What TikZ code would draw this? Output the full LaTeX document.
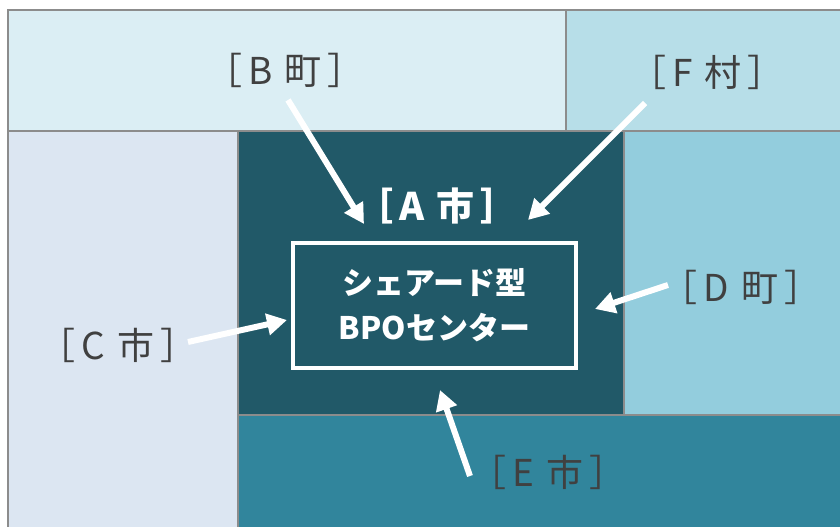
\documentclass[tikz,border=0pt]{standalone}
\usepackage{fontspec}
\setmainfont{Noto Sans CJK JP}
\usetikzlibrary{math,arrows.meta}

\definecolor{bcol}{HTML}{DBEEF4}
\definecolor{fcol}{HTML}{B7DEE8}
\definecolor{ccol}{HTML}{DCE6F2}
\definecolor{acol}{HTML}{215968}
\definecolor{dcol}{HTML}{93CDDD}
\definecolor{ecol}{HTML}{31859C}
\definecolor{txtgray}{HTML}{404040}

\newcommand{\placename}[2]{［\kern6pt#1\kern4pt\ #2\kern6pt］}

\tikzset{
  area/.style={draw=gray!90, line width=1.5pt},
  lbl/.style={text=txtgray, font=\fontsize{37}{40}\selectfont, inner sep=0pt},
  arr/.style={draw=white, line width=6pt, -{Triangle[width=21pt,length=20pt]}},
}

\begin{document}
\begin{tikzpicture}[x=1pt, y=-1pt]
  \tikzmath{%
    \xl = 8; \xa = 238; \xm = 566; \xd = 624; \xr = 842;
    \yt = 10; \ya = 131; \ye = 415; \yb = 529;
  }
  \useasboundingbox (0,0) rectangle (840,527);

  % regions
  \draw[area, fill=bcol] (\xl,\yt) rectangle (\xm,\ya);
  \draw[area, fill=fcol] (\xm,\yt) rectangle (\xr,\ya);
  \draw[area, fill=ccol] (\xl,\ya) rectangle (\xa,\yb);
  \draw[area, fill=acol] (\xa,\ya) rectangle (\xd,\ye);
  \draw[area, fill=dcol] (\xd,\ya) rectangle (\xr,\ye);
  \draw[area, fill=ecol] (\xa,\ye) rectangle (\xr,\yb);

  % labels
  \node[lbl] (B) at (285,70) {\placename{B}{町}};
  \node[lbl] (F) at (707,72) {\placename{F}{村}};
  \node[lbl] (C) at (118,345) {\placename{C}{市}};
  \node[lbl] (D) at (741,287) {\placename{D}{町}};
  \node[lbl] (E) at (548,472) {\placename{E}{市}};
  \node[lbl, text=white, font=\fontsize{38}{40}\selectfont\bfseries] (A) at (437,206) {\placename{A}{市}};

  \node[draw=white, line width=4pt, minimum width=283pt, minimum height=125pt,
        align=center, text=white, font=\fontsize{31}{45}\selectfont\bfseries]
        (center) at (434.5,305.5) {シェアード型\\BPOセンター};

  % arrows
  \coordinate (Bt) at (288,100);  \coordinate (Bh) at (364,224);
  \coordinate (Ft) at (645,103);  \coordinate (Fh) at (528,220);
  \coordinate (Ct) at (188,342);  \coordinate (Ch) at (287,320);
  \coordinate (Dt) at (668,285);  \coordinate (Dh) at (595,309);
  \coordinate (Et) at (470,476);  \coordinate (Eh) at (440,390);
  \foreach \s in {B,F,C,D,E}
    \draw[arr] (\s t) -- (\s h);
\end{tikzpicture}
\end{document}
